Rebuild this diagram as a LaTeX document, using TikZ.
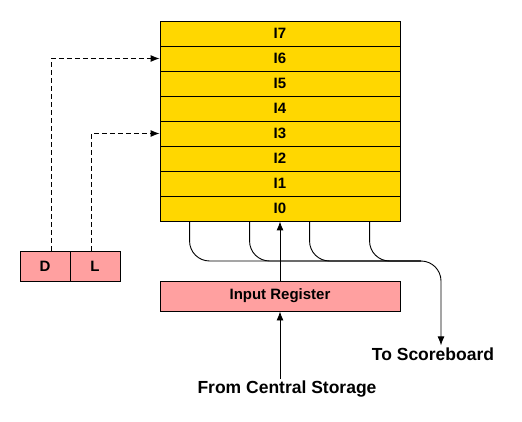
\documentclass[tikz,border=0pt]{standalone}
\usepackage{fontspec}
\setmainfont{Liberation Sans}
\usepackage{xcolor}
\usepackage{tikz}
\usetikzlibrary{arrows, arrows.meta, positioning, calc}

\definecolor{slotyellow}{RGB}{255,215,0}
\definecolor{regpink}{RGB}{255,160,160}

\begin{document}
\begin{tikzpicture}[x=1pt, y=-1pt,
		slot/.style={draw, line width=0.9pt, fill=slotyellow, minimum width=240pt, minimum height=25pt, inner sep=0pt, font=\fontsize{15}{17}\selectfont\bfseries},
		pinkbox/.style={draw, line width=0.9pt, fill=regpink, minimum height=30pt, inner sep=0pt, font=\fontsize{15}{17}\selectfont\bfseries},
		lbl/.style={font=\fontsize{17.5}{20}\selectfont\bfseries, inner sep=2pt},
		arr/.style={line width=0.9pt, -{Latex[length=9pt, width=7pt]}}]
			\useasboundingbox (0,0) rectangle (522,422);
			
			\foreach \i in {0,...,7}
				\node[slot] (i\i) at (280,{208.5-25*\i}) {I\i};
			
			\node[pinkbox, minimum width=240pt] (reg) at (280,296) {Input Register};
			\node[pinkbox, minimum width=50pt] (d) at (45,266) {D};
			\node[pinkbox, minimum width=50pt] (l) at (95,266) {L};
			
			\node[lbl] (from) at (287,389) {From Central Storage};
			\node[lbl] (to) at (433,354) {To Scoreboard};
			\coordinate (bus) at (441,261);
			
			\draw[arr] (reg.south |- from.north) -- (reg.south);
			\draw[arr] (reg.north) -- (i0.south);
			
			\draw[arr, rounded corners=20pt] ([xshift=30pt]i0.south west) |- (bus) -- (bus |- to.north);
			\foreach \dx in {90,150,210}
				\draw[line width=0.9pt, rounded corners=20pt] ([xshift=\dx pt]i0.south west) |- ([xshift=-20pt]bus);
			
			\draw[arr, dashed, dash pattern=on 5pt off 3pt] ([xshift=6pt]d.north) |- (i6.west);
			\draw[arr, dashed, dash pattern=on 5pt off 3pt] ([xshift=-4pt]l.north) |- (i3.west);
		\end{tikzpicture}
\end{document}
